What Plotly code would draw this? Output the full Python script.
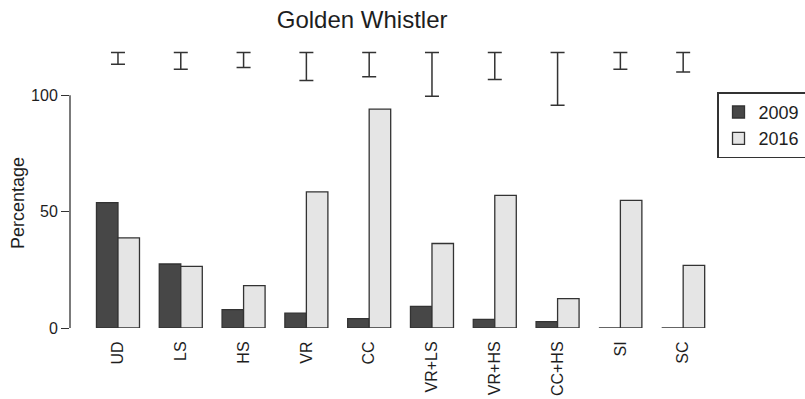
import plotly.graph_objects as go

# Nest-site categories and percentage of nests per survey year
categories = ["UD", "LS", "HS", "VR", "CC", "VR+LS", "VR+HS", "CC+HS", "SI", "SC"]
pct_2009 = [53.9, 27.5, 7.9, 6.4, 4.0, 9.3, 3.7, 2.7, 0.0, 0.0]
pct_2016 = [38.7, 26.5, 18.2, 58.5, 94.0, 36.3, 57.0, 12.6, 54.8, 26.9]

# Interval bars drawn above each category (upper and lower ends)
interval_hi = [118.3, 118.3, 118.3, 118.3, 118.3, 118.3, 118.3, 118.3, 118.3, 118.3]
interval_lo = [113.3, 111.2, 111.9, 106.3, 107.9, 99.6, 106.7, 95.7, 111.2, 110.0]

y_ticks = [0, 50, 100]

FONT = "Liberation Sans, Arial, Helvetica, sans-serif"
INK = "#1e1e1e"
EDGE = "#333333"

interval_mid = [(h + l) / 2 for h, l in zip(interval_hi, interval_lo)]
interval_half = [(h - l) / 2 for h, l in zip(interval_hi, interval_lo)]

fig = go.Figure()
fig.add_trace(go.Bar(
    x=categories, y=pct_2009, name="2009",
    marker=dict(color="#474747", line=dict(color=EDGE, width=1.3)),
    cliponaxis=False,
))
fig.add_trace(go.Bar(
    x=categories, y=pct_2016, name="2016",
    marker=dict(color="#e5e5e5", line=dict(color=EDGE, width=1.3)),
    cliponaxis=False,
))
fig.add_trace(go.Scatter(
    x=categories, y=interval_mid, mode="markers",
    marker=dict(size=1, opacity=0),
    error_y=dict(type="data", symmetric=True, array=interval_half,
                 color=EDGE, thickness=1.5, width=7),
    showlegend=False, hoverinfo="skip", cliponaxis=False,
))

# R-style y axis line that only spans the tick range
fig.add_shape(type="line", xref="paper", yref="y",
              x0=0, x1=0, y0=y_ticks[0], y1=y_ticks[-1],
              line=dict(color=EDGE, width=1.3))

fig.add_annotation(text="Percentage", xref="paper", yref="paper",
                   x=-0.082, y=0.441, textangle=-90, showarrow=False,
                   font=dict(family=FONT, size=18, color=INK),
                   xanchor="center", yanchor="middle")

fig.update_layout(
    width=805, height=399,
    margin=dict(l=70, r=93, t=44, b=71, autoexpand=False),
    paper_bgcolor="white", plot_bgcolor="white",
    barmode="group", bargap=0.315, bargroupgap=0,
    font=dict(family=FONT, color=INK),
    title=dict(text="Golden Whistler", xref="paper", x=0.455, xanchor="center",
               yref="container", y=0.952, yanchor="middle",
               font=dict(family=FONT, size=24, color=INK)),
    legend=dict(x=1.0078, xanchor="left", y=0.83, yanchor="top",
                bordercolor=EDGE, borderwidth=1.5, bgcolor="white",
                font=dict(family=FONT, size=18, color=INK),
                traceorder="normal", itemclick=False),
    xaxis=dict(type="category", range=[-0.764, 9.459], showline=False,
               showgrid=False, zeroline=False, ticks="outside", ticklen=6,
               tickcolor="rgba(0,0,0,0)", tickangle=-90, automargin=False,
               tickfont=dict(family=FONT, size=16, color=INK)),
    yaxis=dict(range=[0, 122], tickvals=y_ticks, showline=False,
               showgrid=False, zeroline=False, ticks="outside", ticklen=8,
               tickwidth=1.3, tickcolor=EDGE, automargin=False,
               tickfont=dict(family=FONT, size=16, color=INK)),
)

fig.write_html("out.html")
